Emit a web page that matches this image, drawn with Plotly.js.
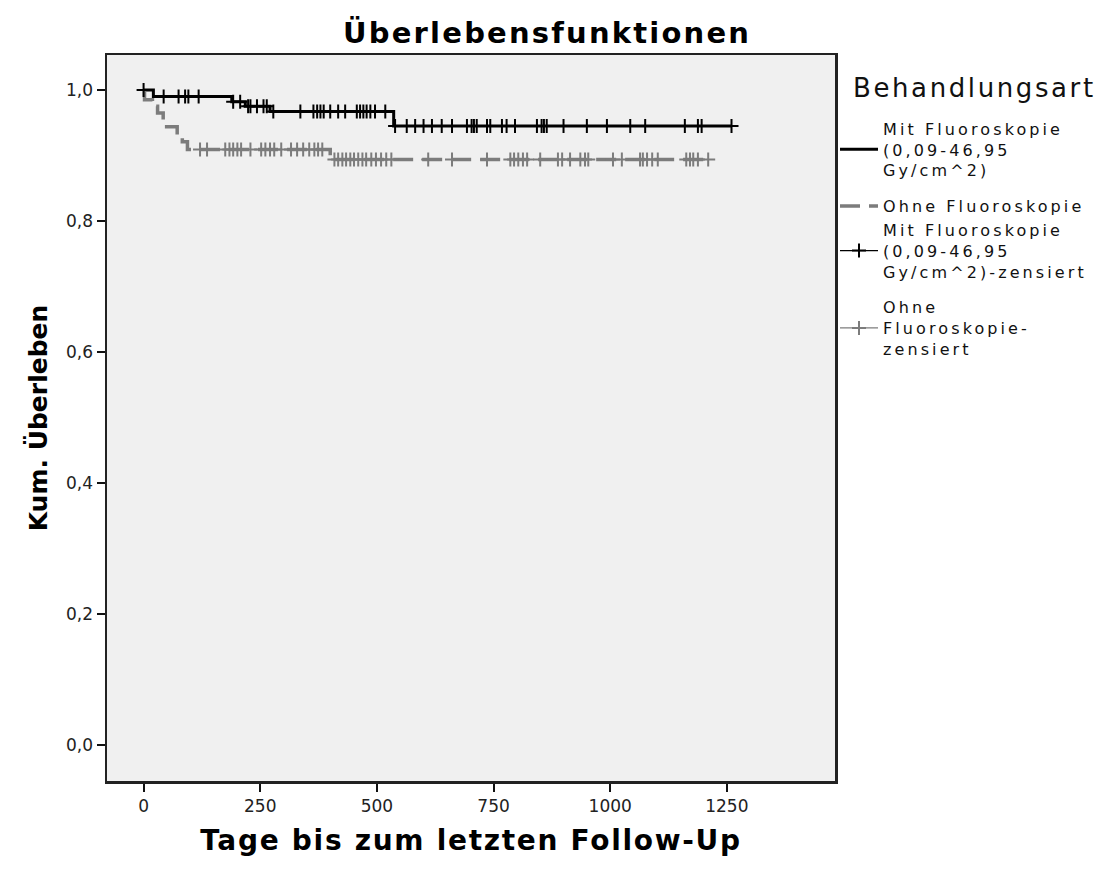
<!DOCTYPE html>
<html>
<head>
<meta charset="utf-8">
<script src="https://cdn.plot.ly/plotly-3.0.1.min.js"></script>
<style>
  html, body { margin:0; padding:0; background:#fff; }
  #chart { width:1112px; height:869px; }
  text.legendtext { letter-spacing: 3.1px; }
  .annotation-text { letter-spacing: 2.6px; }
  text.gtitle { letter-spacing: 2.2px; }
  text.xtitle { letter-spacing: 1.7px; }
</style>
</head>
<body>
<div id="chart"></div>
<script>
// ---- Data ----
const legendTitle = 'Behandlungsart';
const seriesNames = [
  'Mit Fluoroskopie<br>(0,09-46,95<br>Gy/cm^2)',
  'Ohne Fluoroskopie',
  'Mit Fluoroskopie<br>(0,09-46,95<br>Gy/cm^2)-zensiert',
  'Ohne<br>Fluoroskopie-<br>zensiert'
];

// "Mit Fluoroskopie": step times (days) and survival after each step
const mitStepDays = [0, 21, 189, 218, 271, 536];
const mitStepSurv = [1.0, 0.990, 0.982, 0.975, 0.967, 0.945];
const mitEndDay = 1260;
const mitCensorDays = [0, 43, 75, 89, 96, 118, 192, 207, 224, 229, 243, 257, 264, 278,
  336, 364, 372, 379, 386, 400, 417, 432, 457, 464, 471, 478, 486, 496, 518,
  539, 564, 582, 600, 618, 639, 661, 693, 703, 708, 714, 736, 743, 768, 778, 796,
  843, 853, 858, 864, 900, 950, 993, 1043, 1075, 1160, 1188, 1196, 1260];

// "Ohne Fluoroskopie"
const ohneStepDays = [0, 2, 19, 30, 42, 72, 83, 94, 400];
const ohneStepSurv = [1.0, 0.985, 0.975, 0.965, 0.944, 0.932, 0.921, 0.909, 0.894];
const ohneEndDay = 1210;
const ohneCensorDays = [121, 136, 175, 184, 192, 201, 209, 229, 252, 261, 271, 280, 295,
  316, 329, 342, 355, 366, 374, 383,
  409, 417, 426, 434, 443, 451, 460, 469, 477, 488, 498, 509, 520, 531,
  610, 661, 736, 786, 794, 803, 813, 822, 850, 888, 897, 914, 936, 946, 953,
  1006, 1025, 1064, 1070, 1079, 1090, 1102, 1163, 1171, 1178, 1188, 1210];

// Axis ticks
const xTickVals = [0, 250, 500, 750, 1000, 1250];
const xTickText = ['0', '250', '500', '750', '1000', '1250'];
const yTickVals = [0, 0.2, 0.4, 0.6, 0.8, 1.0];
const yTickText = ['0,0', '0,2', '0,4', '0,6', '0,8', '1,0'];

// ---- Helpers ----
function survAt(days, surv, t) {
  let s = surv[0];
  for (let i = 0; i < days.length; i++) { if (days[i] <= t) s = surv[i]; }
  return s;
}
function censorXY(cDays, days, surv) {
  const x = [], y = [];
  cDays.forEach(d => { x.push(d, null); y.push(survAt(days, surv, d), null); });
  return {x, y};
}

const mitC = censorXY(mitCensorDays, mitStepDays, mitStepSurv);
const ohneC = censorXY(ohneCensorDays, ohneStepDays, ohneStepSurv);

const BLACK = '#000000';
const GRAY = '#7c7c7c';

const traces = [
  {
    name: seriesNames[0], legendgroup: 'g1', type: 'scatter', mode: 'lines',
    x: mitStepDays.concat([mitEndDay]),
    y: mitStepSurv.concat([mitStepSurv[mitStepSurv.length - 1]]),
    line: {shape: 'hv', color: BLACK, width: 3}
  },
  {
    name: seriesNames[1], legendgroup: 'g2', type: 'scatter', mode: 'lines',
    x: ohneStepDays.concat([ohneEndDay]),
    y: ohneStepSurv.concat([ohneStepSurv[ohneStepSurv.length - 1]]),
    line: {shape: 'hv', color: GRAY, width: 3.5, dash: '20px,9px'}
  },
  {
    name: seriesNames[2], legendgroup: 'g2', type: 'scatter', mode: 'lines+markers',
    x: mitC.x, y: mitC.y, connectgaps: false,
    line: {color: BLACK, width: 1.3},
    marker: {symbol: 'cross-thin-open', size: 10, color: BLACK, line: {color: BLACK, width: 2}}
  },
  {
    name: seriesNames[3], legendgroup: 'g3', type: 'scatter', mode: 'lines+markers',
    x: ohneC.x, y: ohneC.y, connectgaps: false,
    line: {color: GRAY, width: 1.3},
    marker: {symbol: 'cross-thin-open', size: 10, color: GRAY, line: {color: GRAY, width: 2}}
  }
];

const layout = {
  width: 1112, height: 869,
  margin: {l: 107, r: 277, t: 55, b: 88},
  paper_bgcolor: '#ffffff',
  plot_bgcolor: '#f0f0f0',
  separators: ',.',
  font: {family: '"DejaVu Sans", sans-serif', color: '#000'},
  showlegend: true,
  title: {
    text: 'Überlebensfunktionen',
    font: {size: 29, weight: 'bold', color: '#000'},
    xref: 'container', x: 0.492, xanchor: 'center',
    yref: 'container', y: 1 - 33 / 869, yanchor: 'middle'
  },
  xaxis: {
    range: [-78.4, 1481.8],
    tickmode: 'array', tickvals: xTickVals, ticktext: xTickText,
    ticks: 'outside', ticklen: 8, tickwidth: 2, tickcolor: '#111',
    showline: true, linecolor: '#222', linewidth: 2.5, mirror: true,
    showgrid: false, zeroline: false,
    tickfont: {size: 17, color: '#222'},
    title: {text: 'Tage bis zum letzten Follow-Up', font: {size: 28, weight: 'bold', color: '#000'}, standoff: 16}
  },
  yaxis: {
    range: [-0.055, 1.0534],
    tickmode: 'array', tickvals: yTickVals, ticktext: yTickText,
    ticks: 'outside', ticklen: 8, tickwidth: 2, tickcolor: '#111',
    showline: true, linecolor: '#222', linewidth: 2.5, mirror: true,
    showgrid: false, zeroline: false,
    tickfont: {size: 17, color: '#222'},
    title: {text: 'Kum. Überleben', font: {size: 25, weight: 'bold', color: '#000'}, standoff: 12}
  },
  legend: {
    x: 1.0, xanchor: 'left', xref: 'paper',
    y: 0.922, yanchor: 'top', yref: 'paper',
    bgcolor: 'rgba(0,0,0,0)', borderwidth: 0,
    font: {size: 16, color: '#111'},
    valign: 'middle', tracegroupgap: 12, itemwidth: 38
  },
  annotations: [{
    text: legendTitle, showarrow: false,
    xref: 'paper', yref: 'paper',
    x: (851 - 107) / 728, xanchor: 'left',
    y: 1 - (88 - 55) / 726, yanchor: 'middle',
    font: {size: 26, color: '#111'}
  }]
};

Plotly.newPlot('chart', traces, layout, {displayModeBar: false, responsive: false, staticPlot: true});
</script>
</body>
</html>
